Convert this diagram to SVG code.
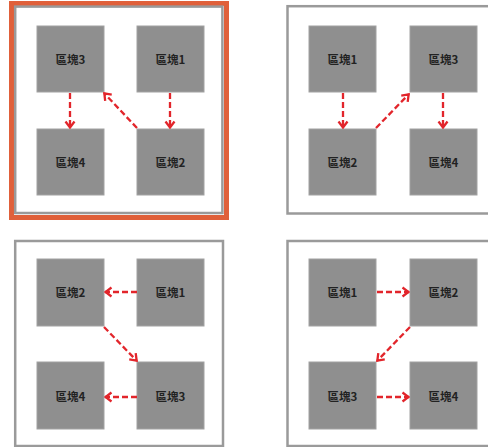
<svg xmlns="http://www.w3.org/2000/svg" width="488" height="447" viewBox="0 0 488 447">
<defs>
<style>
.frame{fill:#fff;stroke:#9a9a9a;stroke-width:2.5}
.hl{fill:none;stroke:#e0603a;stroke-width:5}
.node rect{fill:#8f8f8f;stroke:#a2a2a2;stroke-width:1}
.node text{font-family:"Noto Sans CJK TC","Noto Sans CJK SC",sans-serif;font-size:11.5px;font-weight:bold;fill:#222;text-anchor:middle;dominant-baseline:central}
.conn path{fill:none;stroke:#e2252b;stroke-width:2.3;stroke-dasharray:6 3;marker-end:url(#ah)}
</style>
<marker id="ah" viewBox="0 0 9 12" refX="8" refY="6" markerWidth="9" markerHeight="12" markerUnits="userSpaceOnUse" orient="auto">
<path d="M1.5,1.5 L7.5,6 L1.5,10.5" fill="none" stroke="#e2252b" stroke-width="2.3"/>
</marker>
</defs>
<rect width="488" height="447" fill="#fff"/>
<!-- frames -->
<rect class="hl" x="11.5" y="3.5" width="215" height="214"/>
<rect class="frame" x="15.2" y="6.6" width="207.2" height="206.4"/>
<rect class="frame" x="287.5" y="6.2" width="210" height="207.3"/>
<rect class="frame" x="15.2" y="241" width="207.8" height="205"/>
<rect class="frame" x="287.5" y="241" width="210" height="205"/>

<!-- panel 1 -->
<g id="p1-b3" class="node"><rect x="37" y="26" width="67" height="66"/><text x="70.5" y="59">區塊3</text></g>
<g id="p1-b1" class="node"><rect x="137" y="26" width="67" height="66"/><text x="170.5" y="59">區塊1</text></g>
<g id="p1-b4" class="node"><rect x="37" y="129" width="67" height="66"/><text x="70.5" y="162">區塊4</text></g>
<g id="p1-b2" class="node"><rect x="137" y="129" width="67" height="66"/><text x="170.5" y="162">區塊2</text></g>

<!-- panel 2 -->
<g id="p2-b1" class="node"><rect x="309" y="26" width="67" height="66"/><text x="342.5" y="59">區塊1</text></g>
<g id="p2-b3" class="node"><rect x="410" y="26" width="67" height="66"/><text x="443.5" y="59">區塊3</text></g>
<g id="p2-b2" class="node"><rect x="309" y="129" width="67" height="66"/><text x="342.5" y="162">區塊2</text></g>
<g id="p2-b4" class="node"><rect x="410" y="129" width="67" height="66"/><text x="443.5" y="162">區塊4</text></g>

<!-- panel 3 -->
<g id="p3-b2" class="node"><rect x="37" y="259" width="67" height="67"/><text x="70.5" y="292">區塊2</text></g>
<g id="p3-b1" class="node"><rect x="137" y="259" width="67" height="67"/><text x="170.5" y="292">區塊1</text></g>
<g id="p3-b4" class="node"><rect x="37" y="362" width="67" height="67"/><text x="70.5" y="396">區塊4</text></g>
<g id="p3-b3" class="node"><rect x="137" y="362" width="67" height="67"/><text x="170.5" y="396">區塊3</text></g>

<!-- panel 4 -->
<g id="p4-b1" class="node"><rect x="309" y="259" width="67" height="67"/><text x="342.5" y="292">區塊1</text></g>
<g id="p4-b2" class="node"><rect x="410" y="259" width="67" height="67"/><text x="443.5" y="292">區塊2</text></g>
<g id="p4-b3" class="node"><rect x="309" y="362" width="67" height="67"/><text x="342.5" y="396">區塊3</text></g>
<g id="p4-b4" class="node"><rect x="410" y="362" width="67" height="67"/><text x="443.5" y="396">區塊4</text></g>

<g id="connectors" class="conn">
<path d="M70,93 L70,128"/>
<path d="M170,93 L170,128"/>
<path d="M137,128 L104,93"/>
<path d="M343,93 L343,128"/>
<path d="M376,128 L409,94"/>
<path d="M443,93 L443,128"/>
<path d="M137,292 L105,292"/>
<path d="M104,327 L137,361"/>
<path d="M137,397 L105,397"/>
<path d="M377,292 L409,292"/>
<path d="M410,327 L377,361"/>
<path d="M377,397 L409,397"/>
</g>
</svg>
